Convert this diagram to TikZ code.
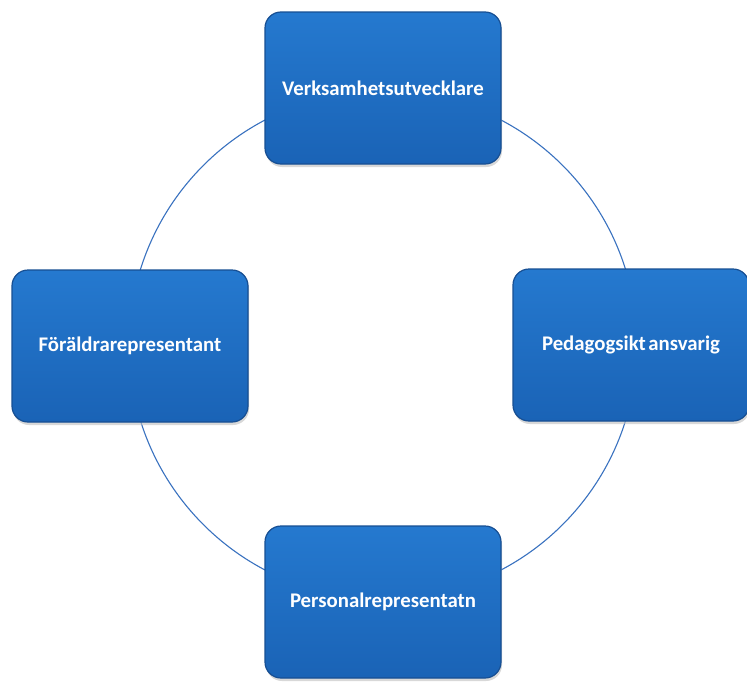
\documentclass[tikz,border=0pt]{standalone}
\usepackage{fontspec}
\setmainfont{Carlito}
\usetikzlibrary{shadows}
\definecolor{boxtop}{HTML}{2579CF}
\definecolor{boxbot}{HTML}{1A63B6}
\definecolor{boxedge}{HTML}{174F93}
\definecolor{ringcol}{HTML}{3A72C0}
\begin{document}
\begin{tikzpicture}[x=1pt,y=-1pt,
  rolebox/.style={rectangle, rounded corners=16pt, minimum width=236pt, minimum height=152pt,
    top color=boxtop, bottom color=boxbot, draw=boxedge, line width=1.2pt,
    drop shadow={shadow xshift=1pt, shadow yshift=-3pt, fill=black!25, opacity=0.6},
    text=white, font=\bfseries\fontsize{20.8}{24}\selectfont, inner sep=0pt},
  ring/.style={circle, draw=ringcol, line width=1.1pt, minimum size=508pt, inner sep=0pt}]
\useasboundingbox (0,0) rectangle (747,688);
\fill[white] (0,0) rectangle (747,688);
\node[ring] (ring) at (383,345) {};
\node[rolebox] (top) at (383,88) {Verksamhetsutvecklare};
\node[rolebox] (left) at (130,346) {Föräldrarepresentant};
\node[rolebox] (right) at (631,345) {Pedagogsikt\hspace{0.12em}ansvarig};
\node[rolebox] (bottom) at (383,602) {Personalrepresentatn};
\end{tikzpicture}
\end{document}
